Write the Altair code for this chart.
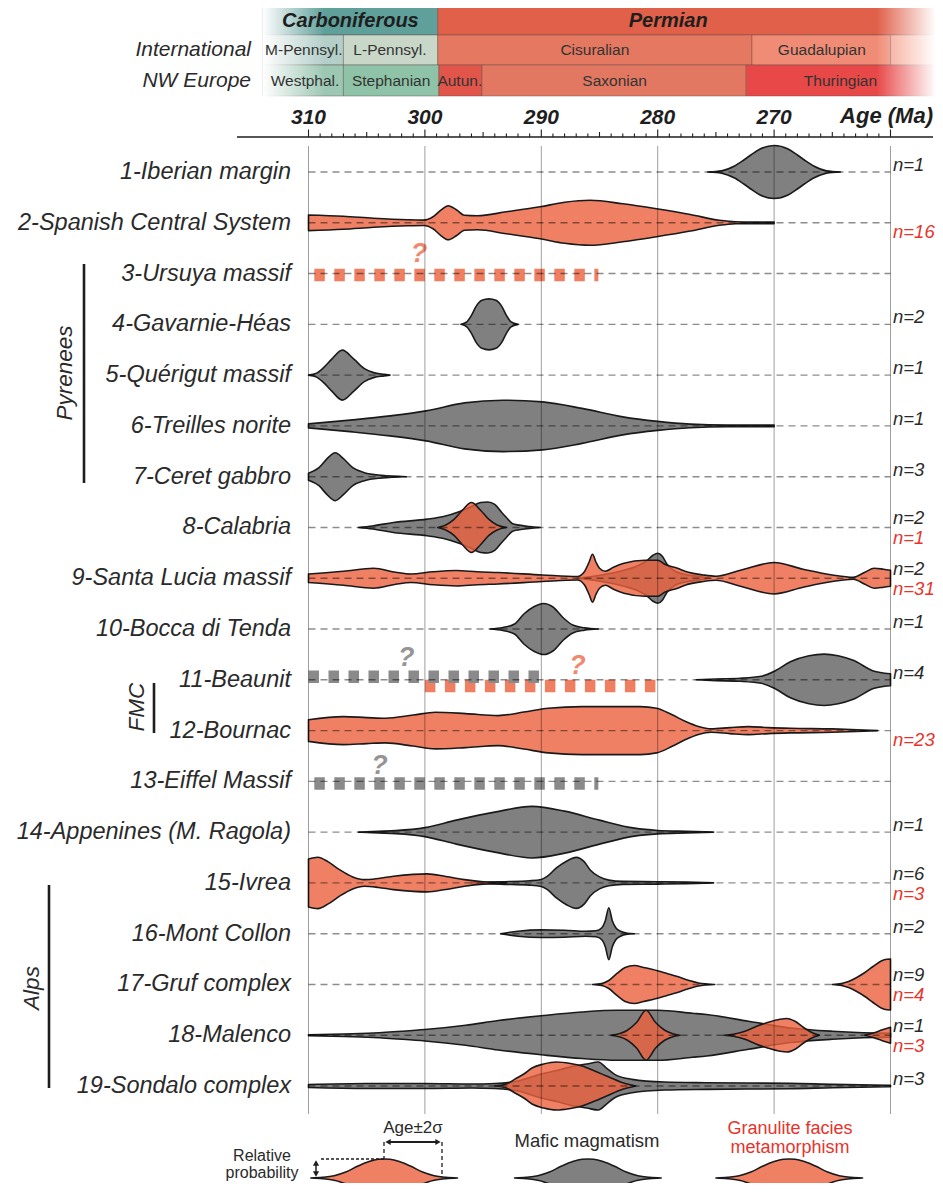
import altair as alt
import pandas as pd

# ------------------------------------------------------------------ data
ROW_NAMES = ["1-Iberian margin", "2-Spanish Central System", "3-Ursuya massif",
             "4-Gavarnie-Héas", "5-Quérigut massif", "6-Treilles norite",
             "7-Ceret gabbro", "8-Calabria", "9-Santa Lucia massif",
             "10-Bocca di Tenda", "11-Beaunit", "12-Bournac", "13-Eiffel Massif",
             "14-Appenines (M. Ragola)", "15-Ivrea", "16-Mont Collon",
             "17-Gruf complex", "18-Malenco", "19-Sondalo complex"]
N_MAFIC = ["n=1", "", "", "n=2", "n=1", "n=1", "n=3", "n=2", "n=2", "n=1",
           "n=4", "", "", "n=1", "n=6", "n=2", "n=9", "n=1", "n=3"]
N_GRANULITE = ["", "n=16", "", "", "", "", "", "n=1", "n=31", "", "",
               "n=23", "", "", "n=3", "", "n=4", "n=3", ""]

# (age Ma, relative probability) outlines
IBERIAN_MAFIC = [(275.7, 0), (274.5, 1.2), (273.4, 6), (272.6, 12), (272.0, 17), (271.2, 23),
                 (270.0, 26.5), (268.8, 23), (268.0, 17), (267.4, 12), (266.6, 6), (265.5, 1.2),
                 (264.3, 0)]
SPANISH_GRAN = [(310.0, 7.8), (307.0, 6.5), (304.4, 4.5), (301.5, 3), (300.1, 2.7), (299.3, 6),
                (298.6, 13), (298.0, 17), (297.3, 13), (296.6, 7.5), (295.5, 7), (293.0, 11),
                (290.1, 16), (288.0, 20.5), (285.8, 22.5), (283.0, 19), (280.1, 14), (277.2, 8.3),
                (274.7, 2.5), (273.3, 1), (272.0, 0.8), (270.0, 0.8)]
GAVARNIE_MAFIC = [(296.9, 0), (296.4, 2.5), (296.0, 9), (295.6, 18), (295.1, 24), (294.5, 25.5),
                  (293.9, 24), (293.4, 18), (293.0, 9), (292.6, 2.5), (292.0, 0)]
QUERIGUT_MAFIC = [(310.0, 0), (309.3, 2), (308.7, 7.5), (308.0, 16), (307.1, 25), (306.1, 16),
                  (305.2, 6.5), (304.4, 2.5), (303.5, 0.8), (303.0, 0)]
TREILLES_MAFIC = [(310.0, 2), (306.2, 6), (303.0, 10), (299.9, 15), (296.6, 23), (293.3, 25.7),
                  (289.9, 24), (286.5, 17.5), (283.0, 9), (280.0, 4.5), (277.2, 1.8), (274.0, 0.8),
                  (270.0, 0.8)]
CERET_MAFIC = [(310.0, 3.5), (309.1, 9), (308.4, 18), (307.7, 24), (307.0, 18), (306.2, 9),
               (305.2, 4), (303.7, 1.3), (301.6, 0)]
CALABRIA_MAFIC = [(305.7, 0), (304.5, 1.5), (302.7, 5), (299.8, 8.3), (298.4, 11), (297.0, 16),
                  (296.0, 21), (295.2, 25), (294.6, 25.5), (294.0, 23), (293.4, 15), (293.0, 10),
                  (292.5, 4), (291.9, 2.3), (291.0, 1), (290.1, 0)]
CALABRIA_GRAN = [(298.9, 0), (298.2, 2.5), (297.5, 8), (296.8, 17), (296.0, 25), (295.2, 17),
                 (294.5, 8), (293.8, 2.5), (293.0, 0)]
SANTA_LUCIA_MAFIC = [(287.0, 0), (285.5, 2), (284.0, 5), (282.9, 8), (281.8, 12), (281.0, 17),
                     (280.4, 23), (280.0, 25), (279.6, 22), (279.2, 14), (278.5, 7), (277.5, 3.5),
                     (276.3, 1.5), (275.5, 0)]
SANTA_LUCIA_GRAN = [(310.0, 4.3), (307.0, 7), (304.4, 10), (302.5, 6), (301.2, 4.3), (299.3, 6.5),
                    (297.3, 7.7), (295.5, 6.5), (293.7, 5.7), (289.9, 3.3), (286.9, 1.7),
                    (286.3, 6.5), (285.9, 16), (285.6, 24), (285.3, 16), (285.0, 10), (284.5, 7),
                    (283.8, 11), (282.9, 15), (281.1, 18), (280.0, 18), (279.4, 14), (278.3, 10),
                    (277.6, 6.7), (276.1, 3.3), (275.0, 2), (272.9, 8), (270.0, 15.7), (267.5, 9),
                    (265.0, 3.3), (263.2, 1), (262.2, 6), (261.4, 10), (260.6, 9), (260.0, 8)]
BOCCA_MAFIC = [(294.4, 0), (293.3, 1.5), (292.3, 5), (291.5, 15), (290.6, 22.5), (289.8, 25.5),
               (289.0, 22), (288.1, 11), (287.3, 4), (286.3, 1.2), (285.1, 0)]
BEAUNIT_MAFIC = [(276.7, 0), (275.0, 0.8), (272.9, 1.5), (271.1, 3.5), (269.9, 9), (268.6, 18),
                 (267.0, 24), (265.7, 25.7), (264.5, 24), (263.2, 19.5), (261.4, 8.5), (260.5, 6.5),
                 (260.0, 6)]
BOURNAC_GRAN = [(310.0, 10.8), (307.0, 14), (305.0, 13), (303.4, 12.3), (301.0, 15.5), (299.1, 18.3),
                (296.5, 17), (293.7, 15), (291.5, 18.5), (289.4, 22.3), (286.5, 24), (284.0, 24),
                (281.5, 24), (280.1, 22.3), (278.8, 16), (277.6, 9), (276.5, 4), (275.4, 1.7),
                (273.8, 3), (272.2, 4), (270.5, 3), (268.6, 2.3), (265.0, 1.7), (262.3, 0.6),
                (261.1, 0)]
APPENINES_MAFIC = [(305.7, 0), (304.0, 0.8), (302.5, 1.5), (300.0, 4.5), (297.3, 12), (294.0, 20),
                   (290.8, 25.8), (288.0, 21), (285.0, 12), (282.0, 4), (280.0, 1.7), (277.5, 0.8),
                   (275.2, 0)]
IVREA_GRAN = [(310.0, 24), (309.2, 25.7), (308.3, 21), (307.3, 13), (306.2, 6), (305.2, 3.3),
              (304.0, 4.5), (302.7, 6.7), (301.0, 8.5), (299.8, 9), (298.2, 6.5), (296.6, 3.3),
              (295.0, 1.2), (293.7, 0.5), (293.0, 0)]
IVREA_MAFIC = [(296.0, 0), (293.5, 1.2), (291.0, 2.2), (290.0, 3.5), (289.5, 6.5), (288.7, 15),
               (287.8, 22), (287.0, 25.5), (286.3, 21), (285.8, 13), (285.0, 6), (284.2, 2.8),
               (283.0, 1.5), (280.0, 1.2), (277.5, 0.8), (275.2, 0)]
MONT_COLLON_MAFIC = [(293.5, 0), (292.0, 2.5), (290.0, 3.8), (288.0, 3.5), (286.2, 2.5), (285.3, 3),
                     (284.8, 6), (284.5, 13), (284.2, 26), (283.9, 13), (283.6, 6), (283.2, 2.5),
                     (282.6, 0.5), (282.0, 0)]
GRUF_GRAN_A = [(285.6, 0), (284.8, 1), (284.2, 4), (283.5, 11), (282.8, 17), (282.0, 19),
               (281.2, 17), (280.1, 14), (279.2, 11), (278.3, 8), (277.3, 4), (276.5, 1.5),
               (275.1, 0)]
GRUF_GRAN_B = [(265.0, 0), (264.2, 1), (263.6, 3), (262.9, 7), (262.2, 12), (261.5, 18),
               (260.8, 23.5), (260.3, 25.3), (260.0, 25.5)]
MALENCO_MAFIC = [(310.0, 0.5), (307.0, 1.2), (304.4, 2.3), (302.0, 4), (300.0, 5.7), (296.5, 10),
                 (293.7, 14.7), (290.0, 19.5), (286.5, 23.3), (283.5, 25), (280.0, 25), (277.0, 22),
                 (275.8, 20.7), (272.2, 14), (268.6, 7.3), (265.0, 4), (261.4, 2.3), (260.0, 2)]
MALENCO_GRAN_A = [(284.0, 0), (283.3, 1.5), (282.6, 5), (281.8, 13), (281.0, 25), (280.2, 13),
                  (279.4, 5), (278.7, 1.5), (278.1, 0)]
MALENCO_GRAN_B = [(274.3, 0), (273.5, 1), (272.5, 4), (271.5, 9), (270.5, 13), (269.5, 16),
                  (268.9, 16.8), (268.2, 14), (267.5, 8), (266.8, 3), (266.1, 0)]
MALENCO_GRAN_C = [(262.2, 0), (261.4, 2.5), (260.7, 5.5), (260.0, 8)]
SONDALO_MAFIC = [(310.0, 1.5), (305.0, 2.5), (300.0, 2.5), (296.0, 2), (294.0, 2.5), (292.0, 5),
                 (290.1, 11.7), (288.5, 16), (287.2, 20), (286.1, 22), (285.1, 24), (284.4, 18),
                 (283.7, 11.7), (282.2, 6.7), (279.4, 4), (275.8, 3.3), (268.6, 2.7), (265.0, 1.7),
                 (260.0, 0.7)]
SONDALO_GRAN = [(294.0, 0), (293.0, 2), (292.3, 6.7), (291.5, 12), (290.8, 18), (289.8, 22),
                (288.7, 24), (287.5, 22.5), (286.5, 20), (285.4, 15), (284.4, 10), (283.0, 3.3),
                (281.9, 0)]

VIOLINS = [
    (1, "mafic", IBERIAN_MAFIC), (2, "granulite", SPANISH_GRAN), (4, "mafic", GAVARNIE_MAFIC),
    (5, "mafic", QUERIGUT_MAFIC), (6, "mafic", TREILLES_MAFIC), (7, "mafic", CERET_MAFIC),
    (8, "mafic", CALABRIA_MAFIC), (8, "granulite", CALABRIA_GRAN),
    (9, "mafic", SANTA_LUCIA_MAFIC), (9, "granulite", SANTA_LUCIA_GRAN),
    (10, "mafic", BOCCA_MAFIC), (11, "mafic", BEAUNIT_MAFIC), (12, "granulite", BOURNAC_GRAN),
    (14, "mafic", APPENINES_MAFIC), (15, "granulite", IVREA_GRAN), (15, "mafic", IVREA_MAFIC),
    (16, "mafic", MONT_COLLON_MAFIC), (17, "granulite", GRUF_GRAN_A), (17, "granulite", GRUF_GRAN_B),
    (18, "mafic", MALENCO_MAFIC), (18, "granulite", MALENCO_GRAN_A),
    (18, "granulite", MALENCO_GRAN_B), (18, "granulite", MALENCO_GRAN_C),
    (19, "mafic", SONDALO_MAFIC), (19, "granulite", SONDALO_GRAN),
]

# uncertain age ranges (thick dashed bars)
UNCERTAIN_ROW = [3, 11, 11, 13]
UNCERTAIN_KIND = ["granulite", "mafic", "granulite", "mafic"]
UNCERTAIN_FROM = [309.5, 310.0, 300.0, 309.5]
UNCERTAIN_TO = [285.1, 290.1, 280.1, 285.1]
QMARK_AGE = [300.5, 301.6, 286.9, 303.9]

# time scale
HEADER_KEYS = ["Carboniferous", "Permian", "M-Pennsyl.", "L-Pennsyl.", "Cisuralian",
               "Guadalupian", "Lopingian", "Westphal.", "Stephanian", "Autun.", "Saxonian",
               "Thuringian"]
HEADER_LABELS = ["Carboniferous", "Permian", "M-Pennsyl.", "L-Pennsyl.", "Cisuralian",
                 "Guadalupian", "", "Westphal.", "Stephanian", "Autun.", "Saxonian", "Thuringian"]
HEADER_TIER = [0, 0, 1, 1, 1, 1, 1, 2, 2, 2, 2, 2]
HEADER_FROM = [313.9, 298.9, 313.9, 307.0, 298.9, 271.9, 260.0, 313.9, 307.0, 298.8, 295.1, 272.4]
HEADER_TO = [298.9, 256.2, 307.0, 298.9, 271.9, 260.0, 256.2, 307.0, 298.8, 295.1, 272.4, 256.2]
HEADER_LABEL_AGE = [306.4, 279.1, 310.4, 303.0, 285.4, 265.9, 258.0, 310.3, 302.9, 297.0,
                    283.7, 264.3]
TIER_NAMES = ["", "International", "NW Europe"]

AXIS_LABELS = [310, 300, 290, 280, 270]
GRID_AGES = [310, 300, 290, 280, 270, 260]
TICK_AGES = list(range(260, 311))

GROUP_NAMES = ["Pyrenees", "FMC", "Alps"]

LEGEND_PROFILE = [(-6.3, 0), (-5.3, 0.7), (-4.3, 2.3), (-3.3, 6), (-2.3, 11.7), (-1.3, 16.5),
                  (-0.5, 18.7), (0.0, 19), (0.5, 18.7), (1.3, 16.5), (2.3, 11.7), (3.3, 6),
                  (4.3, 2.3), (5.3, 0.7), (6.3, 0)]
LEGEND_CENTERS = [303.5, 286.0, 268.7]
LEGEND_KINDS = ["granulite", "mafic", "granulite"]

# ------------------------------------------------------------------ layout / style
W, H = 927, 1175
PAGE = 8
PX_PER_MA = 11.64
AGE_AT_LEFT = 310 + (308.5 - PAGE) / PX_PER_MA
AGE_AT_RIGHT = AGE_AT_LEFT - W / PX_PER_MA
ROW_PX = 50.78
ROW1_Y = 172.0


def row_of(page_y):
    return 1 + (page_y - ROW1_Y) / ROW_PX


def age_of(page_x):
    return 310 - (page_x - 308.5) / PX_PER_MA


def px(v):
    return v - PAGE


ROW_AT_TOP = row_of(PAGE)
ROW_AT_BOTTOM = row_of(PAGE + H)
K = 1.0 / ROW_PX

FONT = "Liberation Sans"
TEXT = "#2a2a2a"
RED = "#e8332b"
GRAY_FILL = "#808080"
SALMON_FILL = "#ec603d"
STROKE = "#1a1a1a"
KIND_COLORS = {"mafic": "#8a8a8a", "granulite": "#f07f62"}
QMARK_COLORS = {"mafic": "#959595", "granulite": "#f08a6e"}

HEADER_FILLS = ["#5fa09b", "#e0604a", "#b4cfc8", "#c9d7c9", "#e47861", "#f08c76", "#f5a08c",
                "#9cc7b3", "#8fc3a7", "#e1554b", "#e27862", "#e84848"]
TIER_PAGE_Y = [(7, 35), (35, 65), (65, 96)]

XS = alt.Scale(domain=[AGE_AT_LEFT, AGE_AT_RIGHT], nice=False, zero=False)
YS = alt.Scale(domain=[ROW_AT_BOTTOM, ROW_AT_TOP], nice=False, zero=False)


def X(f):
    return alt.X(f"{f}:Q", scale=XS, axis=None)


def Y(f):
    return alt.Y(f"{f}:Q", scale=YS, axis=None)


layers = []

# ---------------- header (time scale)
hdr = pd.DataFrame({
    "key": HEADER_KEYS, "label": HEADER_LABELS, "tier": HEADER_TIER,
    "a0": HEADER_FROM, "a1": HEADER_TO, "la": HEADER_LABEL_AGE,
})
hdr["y0"] = [row_of(TIER_PAGE_Y[t][0]) for t in hdr.tier]
hdr["y1"] = [row_of(TIER_PAGE_Y[t][1]) for t in hdr.tier]
hdr["ym"] = (hdr.y0 + hdr.y1) / 2
layers.append(alt.Chart(hdr).mark_rect(stroke="#5b4a46", strokeWidth=0.8, strokeOpacity=0.55).encode(
    x=X("a0"), x2="a1", y=Y("y0"), y2="y1",
    color=alt.Color("key:N", scale=alt.Scale(domain=HEADER_KEYS, range=HEADER_FILLS), legend=None)))

fade = pd.DataFrame({"a0": [313.95, 261.2], "a1": [308.6, 256.1],
                     "y0": [row_of(5), row_of(5)], "y1": [row_of(97), row_of(97)]})
grad_l = alt.LinearGradient(gradient="linear", x1=0, x2=1, y1=0, y2=0, stops=[
    alt.GradientStop(color="white", offset=0), alt.GradientStop(color="rgba(255,255,255,0)", offset=1)])
grad_r = alt.LinearGradient(gradient="linear", x1=0, x2=1, y1=0, y2=0, stops=[
    alt.GradientStop(color="rgba(255,255,255,0)", offset=0), alt.GradientStop(color="white", offset=1)])
layers.append(alt.Chart(fade.iloc[[0]]).mark_rect(fill=grad_l).encode(x=X("a0"), x2="a1", y=Y("y0"), y2="y1"))
layers.append(alt.Chart(fade.iloc[[1]]).mark_rect(fill=grad_r).encode(x=X("a0"), x2="a1", y=Y("y0"), y2="y1"))

layers.append(alt.Chart(hdr[hdr.tier == 0]).mark_text(
    font=FONT, fontSize=20, fontWeight="bold", fontStyle="italic", color="#1e1e1e", baseline="middle").encode(
    x=X("la"), y=Y("ym"), text="label:N"))
layers.append(alt.Chart(hdr[(hdr.tier > 0) & (hdr.label != "")]).mark_text(
    font=FONT, fontSize=15.5, color="#333333", baseline="middle").encode(
    x=X("la"), y=Y("ym"), text="label:N"))

tiers = pd.DataFrame({"name": TIER_NAMES[1:], "y": [row_of(50), row_of(81)]})
layers.append(alt.Chart(tiers).mark_text(
    font=FONT, fontSize=21, fontStyle="italic", color=TEXT, align="right", baseline="middle").encode(
    x=alt.value(px(251)), y=Y("y"), text="name:N"))

# ---------------- age axis
layers.append(alt.Chart(pd.DataFrame({"a0": [age_of(237)], "a1": [age_of(933)], "y": [row_of(137)]}))
              .mark_rule(color="#1e1e1e", strokeWidth=1.6).encode(x=X("a0"), x2="a1", y=Y("y")))
ticks = pd.DataFrame({"age": TICK_AGES})
ticks["y0"] = row_of(137)
ticks["y1"] = [row_of(137 - (7.5 if a % 10 == 0 else 5 if a % 5 == 0 else 3.5)) for a in TICK_AGES]
layers.append(alt.Chart(ticks).mark_rule(color="#1e1e1e", strokeWidth=1.1).encode(
    x=X("age"), y=Y("y0"), y2="y1"))
layers.append(alt.Chart(pd.DataFrame({"age": AXIS_LABELS, "lab": [str(a) for a in AXIS_LABELS]}))
              .mark_text(font=FONT, fontSize=21, fontWeight="bold", fontStyle="italic", color="#1e1e1e",
                         baseline="middle").encode(x=X("age"), y=alt.value(px(118)), text="lab:N"))
layers.append(alt.Chart(pd.DataFrame({"t": ["Age (Ma)"]})).mark_text(
    font=FONT, fontSize=22, fontWeight="bold", fontStyle="italic", color="#1e1e1e", align="right",
    baseline="middle").encode(x=alt.value(px(933)), y=alt.value(px(116)), text="t:N"))

# ---------------- uncertain ranges (below violins)
unc = pd.DataFrame({"row": UNCERTAIN_ROW, "kind": UNCERTAIN_KIND, "a0": UNCERTAIN_FROM,
                    "a1": UNCERTAIN_TO, "qa": QMARK_AGE})
unc["yb"] = unc.row + pd.Series([0.03, -0.06, 0.12, 0.04])
unc["yq"] = unc.row + pd.Series([-0.39, -0.43, -0.27, -0.30])
for kind in ["granulite", "mafic"]:
    sub = unc[unc.kind == kind]
    layers.append(alt.Chart(sub).mark_rule(strokeWidth=12.5, strokeDash=[10.5, 9.5],
                                           color=KIND_COLORS[kind]).encode(
        x=X("a0"), x2="a1", y=Y("yb")))
    layers.append(alt.Chart(sub).mark_text(
        text="?", font=FONT, fontSize=27, fontWeight="bold", fontStyle="italic", baseline="middle",
        color=QMARK_COLORS[kind]).encode(x=X("qa"), y=Y("yq")))

# ---------------- violins
recs = []
for vid, (row, kind, pts) in enumerate(VIOLINS):
    for a, p in pts:
        recs.append({"id": vid, "kind": kind, "age": a, "lo": row - p * K, "hi": row + p * K})
LEGEND_ROW = row_of(1178)
for i, (c, kind) in enumerate(zip(LEGEND_CENTERS, LEGEND_KINDS)):
    for off, p in LEGEND_PROFILE:
        recs.append({"id": 100 + i, "kind": kind, "age": c + off,
                     "lo": LEGEND_ROW - p * K, "hi": LEGEND_ROW + p * K})
vdf = pd.DataFrame(recs)


def violin_layer(kind, fill, op):
    return alt.Chart(vdf[vdf.kind == kind]).mark_area(
        interpolate="monotone", fill=fill, fillOpacity=op, stroke=STROKE, strokeWidth=1.6,
        strokeJoin="round").encode(
        x=X("age"), y=Y("lo"), y2=alt.Y2("hi"), detail="id:N")


layers.append(violin_layer("mafic", GRAY_FILL, 1.0))
layers.append(violin_layer("granulite", SALMON_FILL, 0.8))

# ---------------- grid and row guide lines (drawn translucently on top)
grid = pd.DataFrame({"age": GRID_AGES, "y0": row_of(146), "y1": row_of(1114)})
layers.append(alt.Chart(grid).mark_rule(color="black", strokeOpacity=0.38, strokeWidth=1).encode(
    x=X("age"), y=Y("y0"), y2="y1"))
rows = pd.DataFrame({"row": list(range(1, 20)), "name": ROW_NAMES, "a0": 310, "a1": 260})
layers.append(alt.Chart(rows).mark_rule(color="black", strokeOpacity=0.45, strokeWidth=1.4,
                                        strokeDash=[7, 5]).encode(x=X("a0"), x2="a1", y=Y("row")))

# ---------------- row labels
layers.append(alt.Chart(rows).mark_text(
    font=FONT, fontSize=23.5, fontStyle="italic", color=TEXT, align="right", baseline="middle").encode(
    x=alt.value(px(291)), y=Y("row"), text="name:N"))

# ---------------- n labels
for kind, labels, other, off_pair, off_single, col in [
        ("mafic", N_MAFIC, N_GRANULITE, -9, -7, TEXT),
        ("granulite", N_GRANULITE, N_MAFIC, 11, 9, RED)]:
    nrec = [{"t": t, "y": i + 1 + (off_pair if o else off_single) * K}
            for i, (t, o) in enumerate(zip(labels, other)) if t]
    layers.append(alt.Chart(pd.DataFrame(nrec)).mark_text(
        font=FONT, fontSize=18.5, fontStyle="italic", align="left", baseline="middle", color=col).encode(
        x=alt.value(px(893)), y=Y("y"), text="t:N"))

# ---------------- regional groups
GROUP_BAR_X = [84, 154, 49]
GROUP_BAR_Y = [(264, 483), (683, 733), (885, 1088)]
GROUP_TEXT_X = [65, 137, 32]
GROUP_TEXT_Y = [373, 707, 988]
for name, bx, (b0, b1), tx, ty in zip(GROUP_NAMES, GROUP_BAR_X, GROUP_BAR_Y, GROUP_TEXT_X, GROUP_TEXT_Y):
    gd = pd.DataFrame({"name": [name], "y0": [row_of(b0)], "y1": [row_of(b1)], "ym": [row_of(ty)]})
    layers.append(alt.Chart(gd).mark_rule(color="#1e1e1e", strokeWidth=2.6).encode(
        x=alt.value(px(bx)), y=Y("y0"), y2="y1"))
    layers.append(alt.Chart(gd).mark_text(
        font=FONT, fontSize=22.5, fontStyle="italic", color=TEXT, angle=270, baseline="middle",
        align="center").encode(x=alt.value(px(tx)), y=Y("ym"), text="name:N"))


# ---------------- legend annotations
def ptxt(t, x, y, size, color=TEXT, align="center"):
    return alt.Chart(pd.DataFrame({"t": [t]})).mark_text(
        font=FONT, fontSize=size, color=color, align=align, baseline="middle").encode(
        x=alt.value(px(x)), y=alt.value(px(y)), text="t:N")


def prule(x0, x1, y0, y1, dash=None, w=1.4):
    kw = {"color": "#1e1e1e", "strokeWidth": w}
    if dash:
        kw["strokeDash"] = dash
    return alt.Chart(pd.DataFrame({"a": [0]})).mark_rule(**kw).encode(
        x=alt.value(px(x0)), x2=alt.value(px(x1)), y=alt.value(px(y0)), y2=alt.value(px(y1)))


def ptri(x, y, shape):
    return alt.Chart(pd.DataFrame({"a": [0]})).mark_point(
        shape=shape, filled=True, color="#1e1e1e", size=38, opacity=1).encode(
        x=alt.value(px(x)), y=alt.value(px(y)))


layers += [
    ptxt("Mafic magmatism", 587, 1141, 18.5),
    ptxt("Granulite facies", 790, 1129, 18, RED),
    ptxt("metamorphism", 790, 1148, 18, RED),
    ptxt("Age±2σ", 413, 1128, 17),
    ptxt("Relative", 262, 1156, 16),
    ptxt("probability", 262, 1173, 16),
    prule(321, 384, 1159, 1159, [3, 2], 1.4),
    prule(384, 384, 1142, 1159, [4, 3], 1.3),
    prule(442, 442, 1142, 1178, [4, 3], 1.3),
    prule(389, 437, 1142, 1142, None, 1.8),
    ptri(388, 1142, "triangle-left"),
    ptri(438, 1142, "triangle-right"),
    prule(316, 316, 1164, 1173, None, 1.5),
    ptri(316, 1163, "triangle-up"),
    ptri(316, 1174, "triangle-down"),
]

chart = alt.layer(*layers).properties(
    width=W, height=H, padding=0, autosize=alt.AutoSizeParams(type="none"), background="white"
).configure_view(stroke=None)

chart.save("out.html", embed_options={"renderer": "svg", "actions": False})
